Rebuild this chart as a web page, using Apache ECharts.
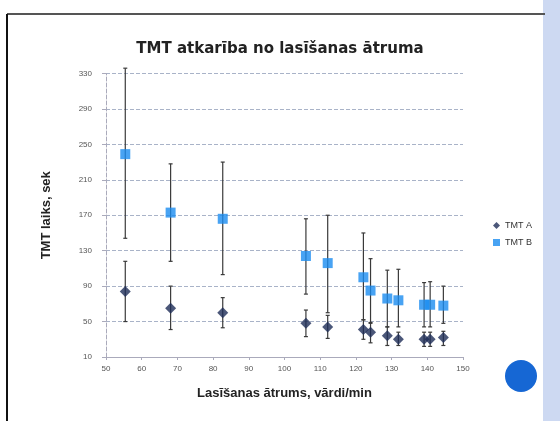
<!DOCTYPE html>
<html>
<head>
<meta charset="utf-8">
<script src="https://cdn.jsdelivr.net/npm/echarts@6/dist/echarts.min.js"></script>
<style>
  html, body { margin: 0; padding: 0; background: #fff; }
  #chart { width: 560px; height: 421px; }
</style>
</head>
<body>
<div id="chart"></div>
<script>
// reading speed (words/min)
const speed = [55.4, 68.1, 82.7, 106, 112.1, 122.1, 124.1, 128.8, 131.9, 139.1, 140.8, 144.5];
// TMT A mean and error range
const tmtA = [84, 65, 60, 48, 44, 41, 38, 34, 30, 30, 30, 32];
const tmtALow = [50, 41, 43, 33, 31, 30, 26, 23, 23, 22, 22, 23];
const tmtAHigh = [118, 90, 77, 63, 57, 52, 49, 44, 38, 38, 38, 39];
// TMT B mean and error range
const tmtB = [239, 173, 166, 124, 116, 100, 85, 76, 74, 69, 69, 68];
const tmtBLow = [144, 118, 103, 81, 60, 52, 48, 44, 44, 44, 44, 48];
const tmtBHigh = [336, 228, 230, 166, 170, 150, 121, 108, 109, 94, 95, 90];

const chart = echarts.init(document.getElementById('chart'));

function errBars(lows, highs) {
  return speed.map((x, i) => [x, lows[i], highs[i]]);
}

function renderErr(params, api) {
  const x = api.value(0);
  const top = api.coord([x, api.value(2)]);
  const bot = api.coord([x, api.value(1)]);
  const cap = 2;
  const st = { stroke: '#3a3a3a', lineWidth: 1.2 };
  return {
    type: 'group',
    children: [
      { type: 'line', shape: { x1: top[0], y1: top[1], x2: bot[0], y2: bot[1] }, style: st },
      { type: 'line', shape: { x1: top[0] - cap, y1: top[1], x2: top[0] + cap, y2: top[1] }, style: st },
      { type: 'line', shape: { x1: bot[0] - cap, y1: bot[1], x2: bot[0] + cap, y2: bot[1] }, style: st }
    ]
  };
}

chart.setOption({
  backgroundColor: '#fff',
  textStyle: { fontFamily: 'Liberation Sans' },
  title: {
    text: 'TMT atkarība no lasīšanas ātruma',
    left: 'center',
    top: 37,
    textStyle: { fontFamily: 'DejaVu Sans', fontSize: 15, fontWeight: 'bold', color: '#222' }
  },
  graphic: [
    { type: 'rect', shape: { x: 543, y: 0, width: 17, height: 421 }, style: { fill: '#cdd9f2' }, z: -1 },
    { type: 'line', shape: { x1: 7, y1: 14, x2: 545, y2: 14 }, style: { stroke: '#555', lineWidth: 2 } },
    { type: 'line', shape: { x1: 7, y1: 14, x2: 7, y2: 421 }, style: { stroke: '#111', lineWidth: 2 } },
    { type: 'circle', shape: { cx: 521, cy: 376, r: 16 }, style: { fill: '#1667d4' } }
  ],
  legend: {
    orient: 'vertical',
    left: 488,
    top: 216,
    itemWidth: 7,
    itemHeight: 7,
    itemGap: 8,
    textStyle: { fontSize: 9, color: '#333' },
    data: [
      { name: 'TMT A', icon: 'diamond' },
      { name: 'TMT B', icon: 'rect' }
    ]
  },
  grid: { left: 106, right: 97, top: 73.5, bottom: 64 },
  xAxis: {
    type: 'value',
    min: 50,
    max: 150,
    interval: 10,
    name: 'Lasīšanas ātrums, vārdi/min',
    nameLocation: 'middle',
    nameGap: 30,
    nameTextStyle: { fontSize: 13, fontWeight: 'bold', color: '#222' },
    axisLine: { lineStyle: { color: '#aab' } },
    axisTick: { show: true, length: 3, lineStyle: { color: '#aab' } },
    axisLabel: { fontSize: 8, color: '#555', margin: 8 },
    splitLine: { show: false }
  },
  yAxis: {
    type: 'value',
    min: 10,
    max: 330,
    interval: 40,
    name: 'TMT laiks, sek',
    nameLocation: 'middle',
    nameGap: 53,
    nameTextStyle: { fontSize: 13, fontWeight: 'bold', color: '#222' },
    axisLine: { show: true, lineStyle: { color: '#aab', type: 'dashed' } },
    axisTick: { show: true, length: 4, lineStyle: { color: '#aab' } },
    axisLabel: { fontSize: 8, color: '#555', margin: 14 },
    splitLine: { lineStyle: { color: '#a9b3c8', type: 'dashed', width: 1 } }
  },
  series: [
    {
      name: 'errA', type: 'custom', renderItem: renderErr,
      data: errBars(tmtALow, tmtAHigh), z: 2, silent: true
    },
    {
      name: 'errB', type: 'custom', renderItem: renderErr,
      data: errBars(tmtBLow, tmtBHigh), z: 2, silent: true
    },
    {
      name: 'TMT A', type: 'scatter', symbol: 'diamond', symbolSize: 11,
      itemStyle: { color: '#1e2d57' }, z: 5,
      data: speed.map((x, i) => [x, tmtA[i]])
    },
    {
      name: 'TMT B', type: 'scatter', symbol: 'rect', symbolSize: 10,
      itemStyle: { color: '#1a8cf0' }, z: 5,
      data: speed.map((x, i) => [x, tmtB[i]])
    }
  ]
});
</script>
</body>
</html>
